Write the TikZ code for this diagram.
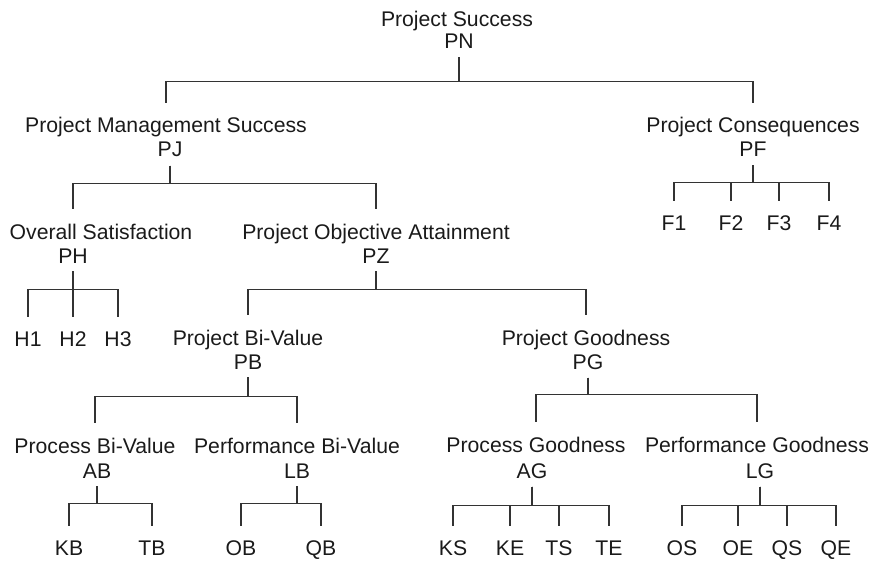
\documentclass[tikz,border=0pt]{standalone}
\usepackage{fontspec}
\setmainfont{Liberation Sans}
\usepackage{xcolor}
\definecolor{tinta}{HTML}{1A1A1A}
\definecolor{rama}{HTML}{333333}

\begin{document}
\begin{tikzpicture}[
    x=0.5pt,y=-0.5pt,
    every node/.style={font=\fontsize{10.6}{12.7}\selectfont,text=tinta,anchor=base},
    heading/.style={inner xsep=0pt,inner ysep=7pt},
    abbrev/.style={inner xsep=0pt,inner ysep=4pt},
    leaf/.style={inner xsep=0pt,inner ysep=7pt},
    link/.style={draw=rama,line width=0.6pt}
  ]
    \useasboundingbox (0,0) rectangle (871,561);

    % top level
    \node[heading] (pnt) at (457,27) {Project Success};
    \node[abbrev] (pn) at (459,49) {PN};

    % second level
    \node[heading] (pjt) at (166,133) {Project Management Success};
    \node[abbrev] (pj) at (170,157) {PJ};
    \node[heading] (pft) at (753,133) {Project Consequences};
    \node[abbrev] (pf) at (753,157) {PF};

    % third level
    \node[heading] (pht) at (101,239) {Overall Satisfaction};
    \node[abbrev] (ph) at (73,263) {PH};
    \node[heading] (pzt) at (376,239) {Project Objective Attainment};
    \node[abbrev] (pz) at (376,263) {PZ};
    \node[leaf] (f1) at (674,230) {F1};
    \node[leaf] (f2) at (731,230) {F2};
    \node[leaf] (f3) at (779,230) {F3};
    \node[leaf] (f4) at (829,230) {F4};

    % fourth level
    \node[leaf] (h1) at (28,346) {H1};
    \node[leaf] (h2) at (73,346) {H2};
    \node[leaf] (h3) at (118,346) {H3};
    \node[heading] (pbt) at (248,345) {Project Bi-Value};
    \node[abbrev] (pb) at (248,369) {PB};
    \node[heading] (pgt) at (586,345) {Project Goodness};
    \node[abbrev] (pg) at (588,369) {PG};

    % fifth level
    \node[heading] (abt) at (95,453) {Process Bi-Value};
    \node[abbrev] (ab) at (97,478) {AB};
    \node[heading] (lbt) at (297,453) {Performance Bi-Value};
    \node[abbrev] (lb) at (297,478) {LB};
    \node[heading] (agt) at (536,452) {Process Goodness};
    \node[abbrev] (ag) at (532,478) {AG};
    \node[heading] (lgt) at (757,452) {Performance Goodness};
    \node[abbrev] (lg) at (760,478) {LG};

    % bottom row
    \node[leaf] (kb) at (69,555) {KB};
    \node[leaf] (tb) at (152,555) {TB};
    \node[leaf] (ob) at (241,555) {OB};
    \node[leaf] (qb) at (321,555) {QB};
    \node[leaf] (ks) at (453,555) {KS};
    \node[leaf] (ke) at (510,555) {KE};
    \node[leaf] (ts) at (559,555) {TS};
    \node[leaf] (te) at (609,555) {TE};
    \node[leaf] (os) at (682,555) {OS};
    \node[leaf] (oe) at (738,555) {OE};
    \node[leaf] (qs) at (787,555) {QS};
    \node[leaf] (qe) at (836,555) {QE};

    % branches
    \draw[link] (pn.south) -- ++(0,24) -| (pjt.north);
    \draw[link] (pn.south) -- ++(0,24) -| (pft.north);
    \draw[link] (pj.south) -- ++(0,18) -| (ph |- pht.north);
    \draw[link] (pj.south) -- ++(0,18) -| (pzt.north);
    \foreach \c in {f1,f2,f3,f4}
      \draw[link] (pf.south) -- ++(0,17) -| (\c.north);
    \foreach \c in {h1,h2,h3}
      \draw[link] (ph.south) -- ++(0,18) -| (\c.north);
    \draw[link] (pz.south) -- ++(0,18) -| (pbt.north);
    \draw[link] (pz.south) -- ++(0,18) -| (pgt.north);
    \draw[link] (pb.south) -- ++(0,19) -| (abt.north);
    \draw[link] (pb.south) -- ++(0,19) -| (lbt.north);
    \draw[link] (pg.south) -- ++(0,17) -| (agt.north);
    \draw[link] (pg.south) -- ++(0,17) -| (lgt.north);
    \foreach \c in {kb,tb}
      \draw[link] (ab.south) -- ++(0,17) -| (\c.north);
    \foreach \c in {ob,qb}
      \draw[link] (lb.south) -- ++(0,17) -| (\c.north);
    \foreach \c in {ks,ke,ts,te}
      \draw[link] (ag.south) -- ++(0,19) -| (\c.north);
    \foreach \c in {os,oe,qs,qe}
      \draw[link] (lg.south) -- ++(0,19) -| (\c.north);
  \end{tikzpicture}
\end{document}
